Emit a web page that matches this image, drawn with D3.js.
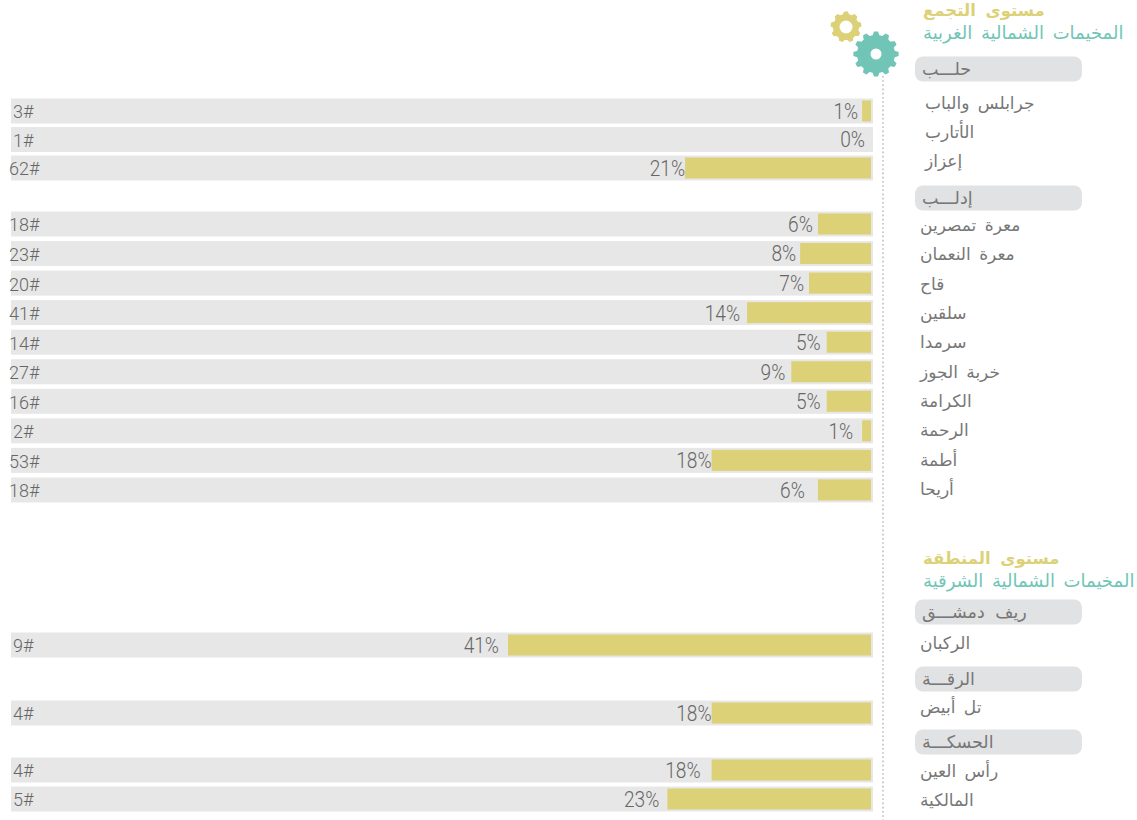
<!DOCTYPE html>
<html lang="ar">
<head>
<meta charset="utf-8">
<script src="https://cdnjs.cloudflare.com/ajax/libs/d3/7.8.5/d3.min.js"></script>
<style>
  html, body { margin: 0; padding: 0; background: #fff; }
  svg { display: block; }
  .ar { font-family: "DejaVu Sans", sans-serif; direction: rtl; text-anchor: end; font-feature-settings: "liga" 0, "clig" 0, "dlig" 0, "calt" 0; }
  .num { font-family: Roboto, sans-serif; font-weight: 300; fill: #666; }
</style>
</head>
<body>
<svg id="chart"></svg>
<script>
// data
const sectionTitles = ["مستوى التجمع", "مستوى المنطقة"];
const sectionSubtitles = ["المخيمات الشمالية الغربية", "المخيمات الشمالية الشرقية"];
const governorates = ["حلـــب", "إدلـــب", "ريف دمشـــق", "الرقـــة", "الحسكـــة"];
const sites = [
  ["جرابلس والباب", "الأتارب", "إعزاز"],
  ["معرة تمصرين", "معرة النعمان", "قاح", "سلقين", "سرمدا", "خربة الجوز", "الكرامة", "الرحمة", "أطمة", "أريحا"],
  ["الركبان"],
  ["تل أبيض"],
  ["رأس العين", "المالكية"]
];
const counts = [[3, 1, 62], [18, 23, 20, 41, 14, 27, 16, 2, 53, 18], [9], [4], [4, 5]];
const percents = [[1, 0, 21], [6, 8, 7, 14, 5, 9, 5, 1, 18, 6], [41], [18], [18, 23]];

// layout
const width = 1137, height = 820;
const barStart = [111, 224, 645, 713, 770];   // centre of first bar in each group
const barStep = [28.5, 29.55, 0, 0, 29];
const listStart = [103, 225, 643, 707, 771];  // centre of first site name
const listStep = [29, 29.3, 0, 0, 29];
const listX = [925, 920, 920, 920, 920];
const pillY = [69, 198, 612, 679, 742];
const titleY = [10, 558], subtitleY = [33, 581];
// the label gaps in the original are hand placed, so they differ row to row
const labelGap = [[4, 6, 0], [5, 4, 5, 7, 6, 6, 6, 9, 0, 13], [9], [0], [11, 8]];

const gold = "#dcd176", teal = "#70c5b6";

const svg = d3.select("#chart").attr("width", width).attr("height", height);

const x = d3.scaleLinear().domain([0, 41]).range([871, 508]);

const rows = counts.flatMap((group, g) => group.map((count, i) => ({
  count,
  pct: percents[g][i],
  y: barStart[g] + i * barStep[g],
  gap: labelGap[g][i]
})));

const row = svg.append("g").selectAll("g").data(rows).join("g")
  .attr("transform", d => `translate(0,${d.y})`);

row.append("rect")
  .attr("x", 11).attr("y", -12.5)
  .attr("width", 862).attr("height", 25)
  .attr("fill", "#e7e7e7");

row.append("rect")
  .attr("x", d => x(d.pct)).attr("y", -10.5)
  .attr("width", d => x(0) - x(d.pct)).attr("height", 21)
  .attr("fill", gold);

// the original digits are tall and narrow, squeeze Roboto to get there
row.append("text")
  .attr("class", "num")
  .attr("transform", d => `translate(${x(d.pct) - d.gap},0) scale(0.87,1)`)
  .attr("dy", "0.36em")
  .attr("text-anchor", "end")
  .attr("font-size", 22)
  .text(d => d.pct + "%");

row.append("text")
  .attr("class", "num")
  .attr("x", d => d.count > 9 ? 9 : 13)
  .attr("y", 1)
  .attr("dy", "0.36em")
  .attr("font-size", 18)
  .text(d => d.count + "#");

// dotted rule under the gears
svg.append("line")
  .attr("x1", 883).attr("x2", 883)
  .attr("y1", 76).attr("y2", height)
  .attr("stroke", "#bdbdbd").attr("stroke-width", 1.6)
  .attr("stroke-dasharray", "1.6 2.6");

// gears
function gearPath(teeth, rOuter, rRoot) {
  const pts = [];
  const step = 2 * Math.PI / teeth;
  for (let i = 0; i < teeth; i++) {
    const a = i * step;
    pts.push([a - step * 0.34, rRoot], [a - step * 0.17, rOuter], [a + step * 0.17, rOuter], [a + step * 0.34, rRoot]);
  }
  return d3.lineRadial().curve(d3.curveLinearClosed)(pts);
}

const gears = [
  { cx: 846, cy: 27, teeth: 9, rOuter: 15.5, rRoot: 13, hole: 6.5, color: gold },
  { cx: 876, cy: 54, teeth: 12, rOuter: 22.7, rRoot: 19, hole: 5.5, color: teal }
];

const gear = svg.append("g").selectAll("g").data(gears).join("g")
  .attr("transform", d => `translate(${d.cx},${d.cy})`);
gear.append("path").attr("d", d => gearPath(d.teeth, d.rOuter, d.rRoot)).attr("fill", d => d.color);
gear.append("circle").attr("r", d => d.hole).attr("fill", "#fff");

// right hand headings and lists
const heading = svg.append("g");
heading.selectAll("text.title").data(sectionTitles).join("text")
  .attr("class", "ar title")
  .attr("x", 923).attr("y", (d, i) => titleY[i])
  .attr("dy", "0.36em")
  .attr("font-size", 16.5).attr("font-weight", "bold")
  .attr("word-spacing", 4)
  .attr("fill", gold)
  .text(d => d);

heading.selectAll("text.sub").data(sectionSubtitles).join("text")
  .attr("class", "ar sub")
  .attr("x", 923).attr("y", (d, i) => subtitleY[i])
  .attr("dy", "0.36em")
  .attr("font-size", 18)
  .attr("word-spacing", 3)
  .attr("fill", teal)
  .text(d => d);

const pill = svg.append("g").selectAll("g").data(governorates).join("g")
  .attr("transform", (d, i) => `translate(915,${pillY[i]})`);
pill.append("rect")
  .attr("y", -12.5).attr("width", 167).attr("height", 25)
  .attr("rx", 8).attr("fill", "#e1e2e3");
pill.append("text")
  .attr("class", "ar")
  .attr("x", 7)
  .attr("dy", "0.36em")
  .attr("font-size", 17.5).attr("fill", "#777")
  .attr("word-spacing", 5)
  .text(d => d);

svg.append("g").selectAll("text")
  .data(sites.flatMap((group, g) => group.map((name, i) => ({
    name, x: listX[g], y: listStart[g] + i * listStep[g]
  }))))
  .join("text")
  .attr("class", "ar")
  .attr("x", d => d.x).attr("y", d => d.y)
  .attr("dy", "0.36em")
  .attr("font-size", 17).attr("fill", "#777")
  .attr("word-spacing", 3)
  .text(d => d.name);
</script>
</body>
</html>
